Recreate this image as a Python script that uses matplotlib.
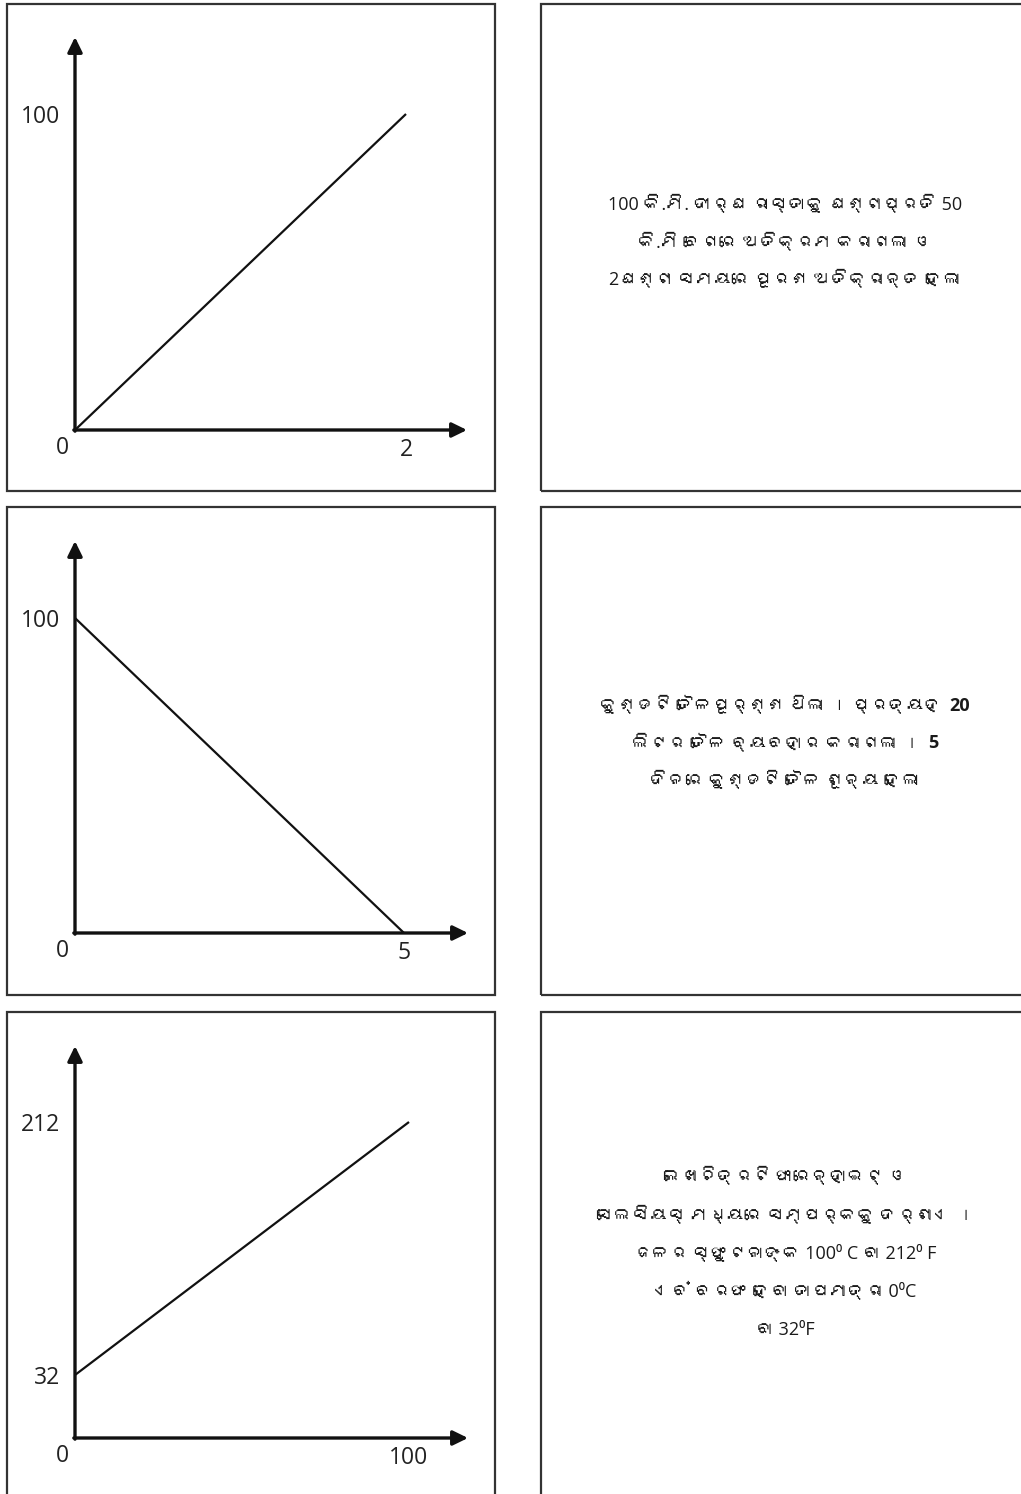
import matplotlib
matplotlib.use("Agg")
import matplotlib.pyplot as plt
from matplotlib import font_manager
from matplotlib.patches import Rectangle
from matplotlib.ft2font import FT2Font

# --- data -------------------------------------------------------------
dist_x = [0, 2]
dist_y = [0, 100]
oil_x = [0, 5]
oil_y = [100, 0]
temp_x = [0, 100]
temp_y = [32, 212]

xtick_labels = [["2"], ["5"], ["100"]]
ytick_labels = [["100"], ["100"], ["32", "212"]]

# each line is a list of segments; every second segment is bold
text_dist = [
    ["100 କି.ମି. ଦୀର୍ଘ ରାସ୍ତାକୁ ଘଣ୍ଟାପ୍ରତି 50"],
    ["କି.ମି ବେଗରେ ଅତିକ୍ରମ କରାଗଲା ଓ"],
    ["2ଘଣ୍ଟା ସମୟରେ ପୂରଣ ଅତିକ୍ରାନ୍ତ ହେଲା"],
]
text_oil = [
    ["କୁଣ୍ଡଟି ତୈଳପୂର୍ଣ୍ଣ ଥିଲା । ପ୍ରତ୍ୟହ", "20"],
    ["ଲିଟର ତୈଳ ବ୍ୟବହାର କରାଗଲା ।", "5"],
    ["ଦିନରେ କୁଣ୍ଡଟି ତୈଳ ଶୂନ୍ୟ ହେଲା"],
]
text_temp = [
    ["ଲେଖାଚିତ୍ରଟି ଫାରେନ୍ହାଇଟ୍ ଓ"],
    ["ସେଲସିୟସ୍ ମଧ୍ୟରେ ସମ୍ପର୍କକୁ ଦର୍ଶାଏ ।"],
    ["ଜଳର ସ୍ଫୁଟନାଙ୍କ 100⁰ C ବା 212⁰ F"],
    ["ଏବଂ ବରଫ ହେବା ତାପମାତ୍ରା 0⁰C"],
    ["ବା 32⁰F"],
]


def find_odia_font():
    for f in font_manager.fontManager.ttflist:
        try:
            if 0x0B15 in FT2Font(f.fname).get_charmap():
                return f.name
        except Exception:
            continue
    return None


odia = find_odia_font()
families = ["Open Sans"] + ([odia] if odia else []) + ["DejaVu Sans"]
plt.rcParams["font.family"] = families

W, H = 1021, 1494
fig = plt.figure(figsize=(W / 100, H / 100), dpi=100)


def fbox(x0, y0, x1, y1):
    # pixel box (top-left origin) -> figure fraction rect
    return [x0 / W, 1 - y1 / H, (x1 - x0) / W, (y1 - y0) / H]


def border(x0, y0, x1, y1):
    l, b, w, h = fbox(x0, y0, x1, y1)
    fig.patches.append(Rectangle((l, b), w, h, transform=fig.transFigure,
                                 fill=False, lw=1.6, ec="#333333"))


# panel boxes
rows = [(4, 491), (507, 995), (1012, 1500)]
for top, bot in rows:
    border(7, top, 495, bot)
    border(541, top, 1030, bot)


def graph(x, y, ax_px, end_px, yticks, xlabels, ylabels):
    # ax_px: (left, axis_y, arrow_x, arrow_top); end_px: pixel of last x and y ticks
    left, axis_y, tip_x, tip_y = ax_px
    ax = fig.add_axes(fbox(left, tip_y, tip_x, axis_y))
    x_end_px, y_lo_px, y_hi_px = end_px
    xmax = x[-1] * (tip_x - left) / (x_end_px - left)
    y_lo, y_hi = yticks[0], yticks[-1]
    per_px = (y_hi - y_lo) / (y_lo_px - y_hi_px)
    ax.set_xlim(0, xmax)
    ax.set_ylim(y_lo - (axis_y - y_lo_px) * per_px, y_hi + (y_hi_px - tip_y) * per_px)
    ax.plot(x, y, color="#111111", lw=1.6, solid_capstyle="butt", clip_on=False)
    for s in ax.spines.values():
        s.set_visible(False)
    ax.patch.set_alpha(0)
    arrow = dict(arrowstyle="-|>,head_length=0.45,head_width=0.22",
                 lw=2.4, color="#111111", shrinkA=0, shrinkB=0, mutation_scale=20)
    ax.annotate("", xy=(1, 0), xytext=(-0.003, 0), xycoords="axes fraction",
                arrowprops=arrow)
    ax.annotate("", xy=(0, 1), xytext=(0, -0.003), xycoords="axes fraction",
                arrowprops=arrow)
    ax.set_xticks([x[-1]], xlabels)
    ax.set_yticks(yticks, ylabels)
    ax.tick_params(length=0, labelsize=16.5, colors="#222222")
    ax.tick_params(axis="x", pad=6)
    ax.tick_params(axis="y", pad=11)
    for lab in ax.get_xticklabels() + ax.get_yticklabels():
        lab.set_fontfamily("Open Sans")
    ax.annotate("0", xy=(0, 0), xycoords="axes fraction", xytext=(-13, -18),
                textcoords="offset pixels", ha="center", va="center",
                fontsize=16.5, color="#222222", family="Open Sans")
    return ax


graph(dist_x, dist_y, (75, 430, 467, 37), (406, 430, 114), [0, 100],
      xtick_labels[0], ["", ytick_labels[0][0]])
graph(oil_x, oil_y, (75, 933, 468, 541), (404, 933, 618), [0, 100],
      xtick_labels[1], ["", ytick_labels[1][0]])
graph(temp_x, temp_y, (75, 1438, 468, 1046), (409, 1375, 1122), [32, 212],
      xtick_labels[2], ytick_labels[2])

renderer = fig.canvas.get_renderer()


def caption(lines, y_first, step=37.5, cx=785, gap=7):
    for i, segs in enumerate(lines):
        y = 1 - (y_first + i * step) / H
        arts = []
        for k, s in enumerate(segs):
            t = fig.text(0, y, s, ha="left", va="center", fontsize=13,
                         color="#1a1a1a", weight="bold" if k % 2 else "normal")
            arts.append(t)
        widths = [t.get_window_extent(renderer).width for t in arts]
        x = cx - (sum(widths) + gap * (len(arts) - 1)) / 2
        for t, w in zip(arts, widths):
            t.set_x(x / W)
            x += w + gap


caption(text_dist, 205)
caption(text_oil, 706)
caption(text_temp, 1177, step=38.3)

fig.savefig("out.png", dpi=100, facecolor="white")
